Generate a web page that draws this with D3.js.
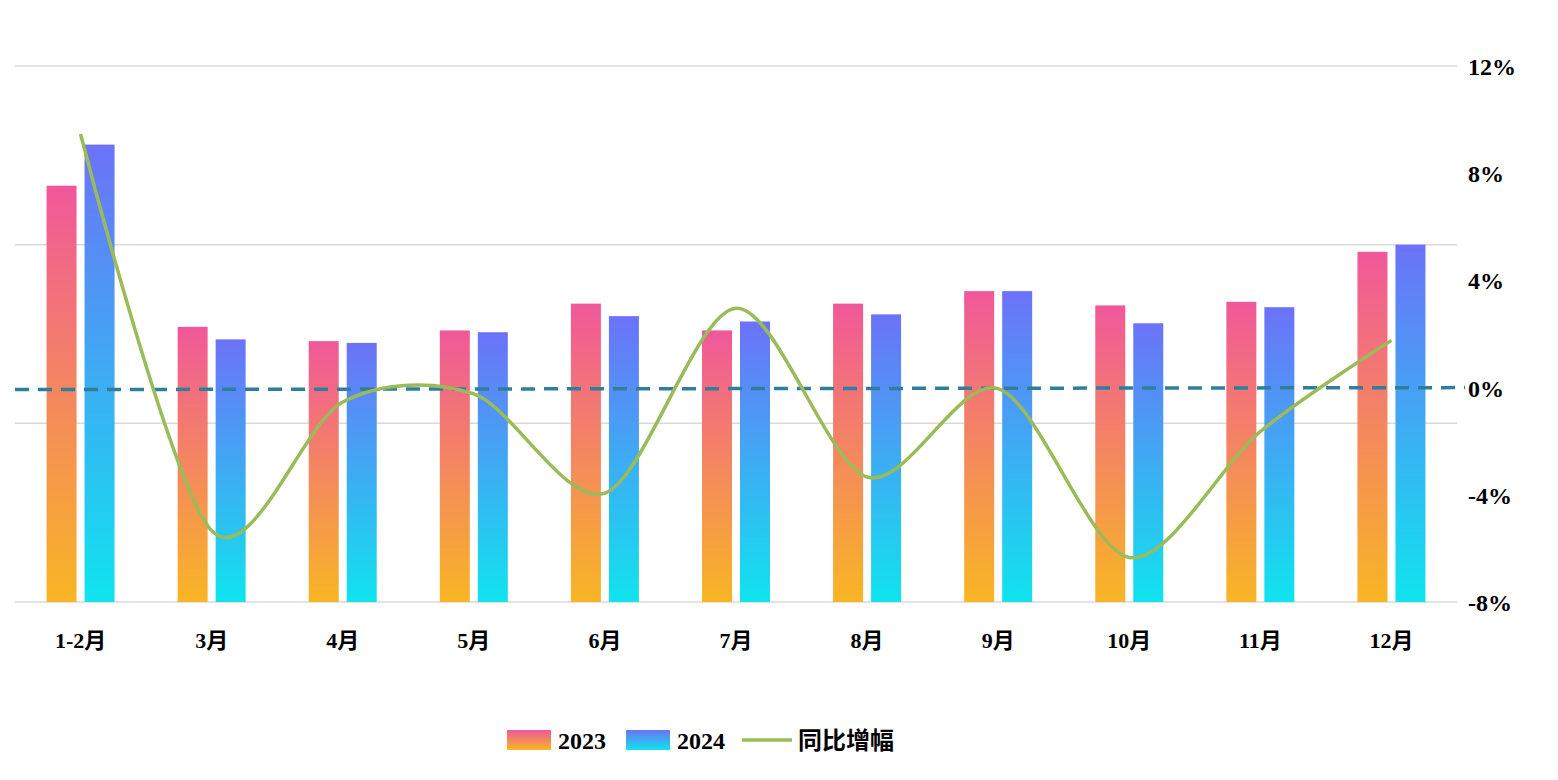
<!DOCTYPE html>
<html lang="zh">
<head>
<meta charset="UTF-8">
<script src="https://cdn.jsdelivr.net/npm/d3@7"></script>
<style>
  body { margin: 0; background: #fff; }
  text { font-family: "Liberation Serif", "Noto Sans CJK SC", serif; font-weight: bold; }
</style>
</head>
<body>
<script>
  // data
  const months = ['1-2月', '3月', '4月', '5月', '6月', '7月', '8月', '9月', '10月', '11月', '12月'];
  const v2023 = [233, 154, 146, 152, 167, 152, 167, 174, 166, 168, 196];
  const v2024 = [256, 147, 145, 151, 160, 157, 161, 174, 156, 165, 200];
  const growth = [9.5, -5.3, -0.5, -0.2, -3.9, 3.0, -3.3, 0.0, -6.3, -1.6, 1.8];
  const pctTicks = [12, 8, 4, 0, -4, -8];

  const w = 1558, h = 780;
  const plotL = 15, plotR = 1457, plotT = 66, plotB = 602;

  const svg = d3.select('body').append('svg').attr('width', w).attr('height', h);
  const defs = svg.append('defs');
  function grad(id, c1, c2) {
    const g = defs.append('linearGradient').attr('id', id)
      .attr('x1', 0).attr('y1', 0).attr('x2', 0).attr('y2', 1);
    g.append('stop').attr('offset', '0%').attr('stop-color', c1);
    g.append('stop').attr('offset', '100%').attr('stop-color', c2);
  }
  grad('g23', '#f0589a', '#f8b624');
  grad('g24', '#6c72f8', '#10e4ee');

  const x = d3.scaleBand().domain(months).range([plotL, plotR]);
  const yBar = d3.scaleLinear().domain([0, 300]).range([plotB, plotT]);
  const yPct = d3.scaleLinear().domain([-8, 12]).range([603, 67]);

  // gridlines
  svg.selectAll('line.grid').data([0, 100, 200, 300]).enter().append('line')
    .attr('x1', plotL).attr('x2', plotR)
    .attr('y1', d => yBar(d)).attr('y2', d => yBar(d))
    .attr('stroke', '#d9d9d9').attr('stroke-width', 1.5);

  const cx = m => x(m) + x.bandwidth() / 2;
  const bw = 30;

  svg.selectAll('rect.a').data(v2023).enter().append('rect')
    .attr('x', (d, i) => cx(months[i]) - 34).attr('width', bw)
    .attr('y', d => yBar(d)).attr('height', d => plotB - yBar(d))
    .attr('fill', 'url(#g23)');
  svg.selectAll('rect.b').data(v2024).enter().append('rect')
    .attr('x', (d, i) => cx(months[i]) + 4).attr('width', bw)
    .attr('y', d => yBar(d)).attr('height', d => plotB - yBar(d))
    .attr('fill', 'url(#g24)');

  // zero line (dashed)
  svg.append('line').attr('x1', plotL).attr('x2', 1465)
    .attr('y1', yPct(0) + 1).attr('y2', yPct(0) - 1)
    .attr('stroke', '#2f7f9c').attr('stroke-width', 3.5).attr('stroke-dasharray', '14,9');

  // growth curve
  const line = d3.line().x((d, i) => cx(months[i])).y(d => yPct(d)).curve(d3.curveCardinal.tension(0.1));
  svg.append('path').datum(growth).attr('d', line)
    .attr('fill', 'none').attr('stroke', '#9bbb59').attr('stroke-width', 3.5);

  // right axis
  svg.selectAll('text.pct').data(pctTicks).enter().append('text')
    .attr('x', 1468).attr('y', d => yPct(d) + 8)
    .attr('font-size', 24).text(d => d + '%');

  // x labels
  svg.selectAll('text.m').data(months).enter().append('text')
    .attr('x', d => cx(d)).attr('y', 648).attr('text-anchor', 'middle')
    .attr('font-size', 22).text(d => d);

  // legend
  const lg = svg.append('g');
  lg.append('rect').attr('x', 507).attr('y', 730).attr('width', 44).attr('height', 20).attr('fill', 'url(#g23)');
  lg.append('text').attr('x', 558).attr('y', 749).attr('font-size', 24).text('2023');
  lg.append('rect').attr('x', 626).attr('y', 730).attr('width', 44).attr('height', 20).attr('fill', 'url(#g24)');
  lg.append('text').attr('x', 677).attr('y', 749).attr('font-size', 24).text('2024');
  lg.append('line').attr('x1', 742).attr('x2', 792).attr('y1', 740).attr('y2', 740)
    .attr('stroke', '#9bbb59').attr('stroke-width', 3.5);
  lg.append('text').attr('x', 798).attr('y', 749).attr('font-size', 24).text('同比增幅');
</script>
</body>
</html>
